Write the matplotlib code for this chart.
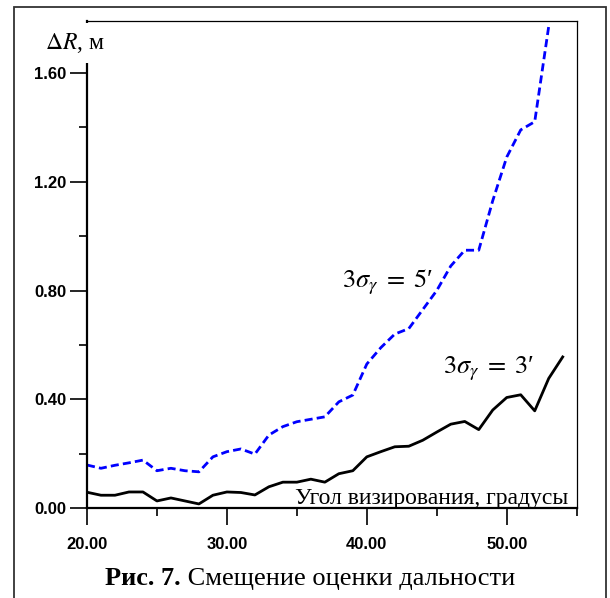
import matplotlib
matplotlib.use("Agg")
import matplotlib.pyplot as plt
from matplotlib.patches import Rectangle
from matplotlib.ticker import MultipleLocator, FormatStrFormatter

# viewing angle, degrees
angle_3 = list(range(20, 55))
angle_5 = list(range(20, 54))

# range estimate bias, m (3*sigma_gamma = 3')
bias_3 = [0.059, 0.048, 0.048, 0.060, 0.060, 0.027, 0.038, 0.027, 0.016, 0.048,
          0.060, 0.058, 0.049, 0.079, 0.096, 0.096, 0.107, 0.096, 0.127, 0.138,
          0.189, 0.208, 0.226, 0.228, 0.250, 0.280, 0.309, 0.319, 0.289, 0.361,
          0.407, 0.417, 0.358, 0.477, 0.556]
# range estimate bias, m (3*sigma_gamma = 5')
bias_5 = [0.159, 0.147, 0.158, 0.167, 0.177, 0.138, 0.147, 0.138, 0.134, 0.189,
          0.208, 0.218, 0.199, 0.269, 0.300, 0.318, 0.327, 0.336, 0.391, 0.416,
          0.530, 0.590, 0.640, 0.660, 0.730, 0.800, 0.890, 0.948, 0.948, 1.130,
          1.290, 1.390, 1.420, 1.770]

plt.rcParams["mathtext.fontset"] = "stix"
serif = ["Liberation Serif", "DejaVu Serif"]
tick_font = dict(family="Liberation Sans", weight="bold", size=12)

fig = plt.figure(figsize=(6.1, 5.98), dpi=100)
ax = fig.add_axes([0.1426, 0.15, 0.9454 - 0.1426, 0.9649 - 0.15])

ax.plot(angle_3, bias_3, color="black", lw=2)
ax.plot(angle_5, bias_5, color="#0000FF", lw=2, dashes=(2.9, 1.5))

ax.set_xlim(20, 55)
ax.set_ylim(0, 1.79)
ax.xaxis.set_major_locator(MultipleLocator(10))
ax.xaxis.set_minor_locator(MultipleLocator(5))
ax.yaxis.set_major_locator(MultipleLocator(0.4))
ax.yaxis.set_minor_locator(MultipleLocator(0.2))
ax.xaxis.set_major_formatter(FormatStrFormatter("%.2f"))
ax.yaxis.set_major_formatter(FormatStrFormatter("%.2f"))

ax.tick_params(which="major", direction="out", length=12, width=1.2)
ax.tick_params(which="minor", direction="out", length=6, width=1.2)
ax.tick_params(axis="x", which="major", pad=9)
ax.tick_params(axis="y", which="major", pad=3)
for lab in ax.get_xticklabels() + ax.get_yticklabels():
    lab.set_fontproperties(tick_font)

ax.spines["left"].set_linewidth(1.6)
ax.spines["bottom"].set_linewidth(1.6)
ax.spines["top"].set_linewidth(0.9)
ax.spines["right"].set_linewidth(0.9)

# axis titles drawn inside the frame, as in the original figure
ax.text(-0.0245, 0.9425, r"$\Delta R$, м", transform=ax.transAxes, ha="center",
        va="baseline", fontsize=17, family=serif, zorder=5, clip_on=False,
        bbox=dict(facecolor="white", edgecolor="none", boxstyle="square,pad=0.35"))
ax.text(0.983, 0.009, "Угол визирования, градусы", transform=ax.transAxes,
        ha="right", va="baseline", fontsize=17, family=serif)

ax.text(38.23, 0.813, r"$3\sigma_{\gamma}\;=\;5$′", fontsize=19, va="baseline",
        family=serif)
ax.text(45.48, 0.495, r"$3\sigma_{\gamma}\;=\;3$′", fontsize=19, va="baseline",
        family=serif)

cap = fig.text(0.172, 0.0217, "Рис. 7.", ha="left", va="baseline", fontsize=19,
               family=serif, weight="bold")
ax.annotate(" Смещение оценки дальности", xy=(1, 0), xycoords=cap,
            va="bottom", ha="left", fontsize=19, family=serif, annotation_clip=False)

# outer frame of the figure panel
fig.add_artist(Rectangle((14 / 610, -0.05), (605.7 - 14) / 610, 1.05 - 7.3 / 598,
                         transform=fig.transFigure, fill=False,
                         edgecolor="#333333", lw=1.3))

fig.savefig("out.png", dpi=100)
